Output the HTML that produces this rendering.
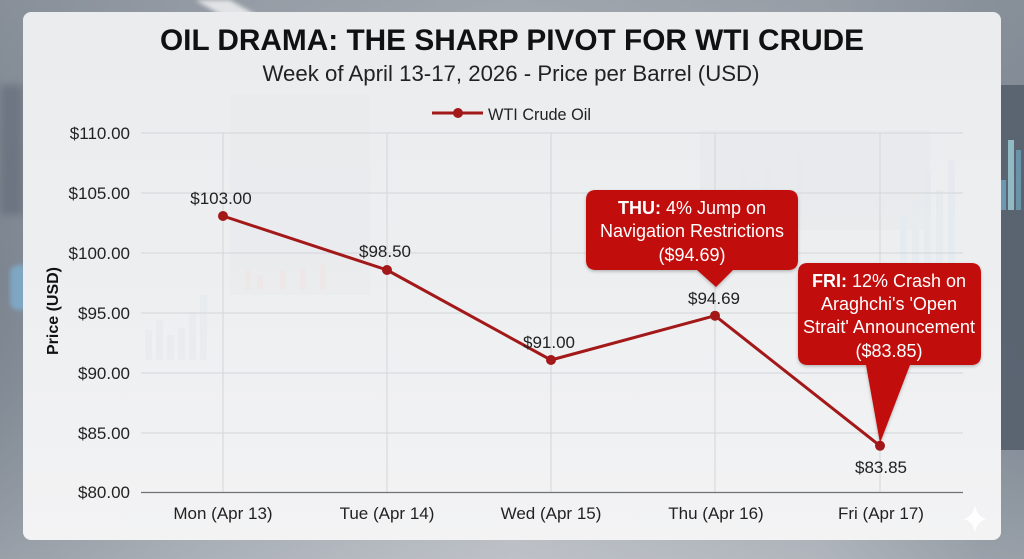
<!DOCTYPE html>
<html>
<head>
<meta charset="utf-8">
<style>
  html,body{margin:0;padding:0;}
  body{width:1024px;height:559px;overflow:hidden;
    background:linear-gradient(90deg,#7c8590 0%,#9ba2ab 20%,#b9bdc3 50%,#a3a9b1 80%,#7d8792 96%,#7b8590 100%);}
  svg{display:block;}
  text{font-family:"Liberation Sans",Arial,sans-serif;}
</style>
</head>
<body>
<svg width="1024" height="559" viewBox="0 0 1024 559" xmlns="http://www.w3.org/2000/svg">
  <defs>
    <linearGradient id="bgv" x1="0" y1="0" x2="0" y2="1">
      <stop offset="0" stop-color="#8f969f" stop-opacity="0.6"/>
      <stop offset="0.5" stop-color="#8f969f" stop-opacity="0"/>
      <stop offset="1" stop-color="#c4c8cd" stop-opacity="0.4"/>
    </linearGradient>
    <linearGradient id="card" x1="0" y1="0" x2="0" y2="1">
      <stop offset="0" stop-color="#eaecee"/>
      <stop offset="0.45" stop-color="#eceef0"/>
      <stop offset="1" stop-color="#f3f3f4"/>
    </linearGradient>
    <filter id="sh" x="-10%" y="-10%" width="120%" height="130%">
      <feDropShadow dx="0" dy="1.5" stdDeviation="1.5" flood-color="#000" flood-opacity="0.25"/>
    </filter>
    <filter id="blur"><feGaussianBlur stdDeviation="2"/></filter>
    <filter id="blur4"><feGaussianBlur stdDeviation="4"/></filter>
  </defs>

  <!-- background -->
  <rect x="0" y="0" width="1024" height="559" fill="url(#bgv)"/>
  <polygon points="195,0 230,0 300,40 265,40" fill="#f4f5f6" opacity="0.8" filter="url(#blur)"/>
  <rect x="0" y="85" width="23" height="130" fill="#5f6874" opacity="0.6" filter="url(#blur4)"/>
  <rect x="10" y="265" width="20" height="45" rx="8" fill="#7fb3d8" opacity="0.7" filter="url(#blur)"/>
  <rect x="995" y="85" width="29" height="365" fill="#56616e" opacity="0.9"/>
  <rect x="1008" y="140" width="6" height="70" fill="#9fd0d8" opacity="0.8"/>
  <rect x="1001" y="180" width="5" height="30" fill="#6fa6c2" opacity="0.8"/>
  <rect x="1016" y="150" width="5" height="60" fill="#6fa6c2" opacity="0.7"/>

  <!-- card -->
  <rect x="23" y="12" width="978" height="528" rx="8" fill="url(#card)"/>

  <!-- faint background details inside card -->
  <g opacity="0.22">
    <rect x="700" y="130" width="230" height="100" fill="#dfe3e7"/>
    <rect x="230" y="95" width="140" height="200" fill="#e2e4e7"/>
    <g fill="#d5e2ec">
      <rect x="145" y="330" width="7" height="30"/><rect x="156" y="320" width="7" height="40"/><rect x="167" y="335" width="7" height="25"/><rect x="178" y="328" width="7" height="32"/><rect x="189" y="312" width="7" height="48"/><rect x="200" y="295" width="7" height="65"/>
      <rect x="900" y="215" width="7" height="60"/><rect x="912" y="200" width="7" height="75"/><rect x="924" y="170" width="7" height="105"/><rect x="936" y="190" width="7" height="85"/><rect x="948" y="160" width="7" height="115"/>
      <rect x="740" y="170" width="6" height="40"/><rect x="752" y="180" width="6" height="30"/><rect x="764" y="165" width="6" height="45"/><rect x="796" y="155" width="6" height="55"/>
    </g>
    <g fill="#f1d6c8">
      <rect x="245" y="270" width="6" height="20"/><rect x="257" y="275" width="6" height="15"/><rect x="280" y="270" width="6" height="20"/><rect x="300" y="268" width="6" height="22"/><rect x="320" y="265" width="6" height="25"/>
    </g>
  </g>

  <!-- sparkle -->
  <path d="M975,505 Q977,517 987,519 Q977,521 975,533 Q973,521 963,519 Q973,517 975,505 Z" fill="#ffffff" opacity="0.85"/>

  <!-- gridlines -->
  <g stroke="#d3d5d8" stroke-width="1">
    <line x1="141" y1="133" x2="963" y2="133"/>
    <line x1="141" y1="193" x2="963" y2="193"/>
    <line x1="141" y1="253" x2="963" y2="253"/>
    <line x1="141" y1="313" x2="963" y2="313"/>
    <line x1="141" y1="373" x2="963" y2="373"/>
    <line x1="141" y1="433" x2="963" y2="433"/>
    <line x1="223" y1="133" x2="223" y2="492"/>
    <line x1="387" y1="133" x2="387" y2="492"/>
    <line x1="551" y1="133" x2="551" y2="492"/>
    <line x1="715" y1="133" x2="715" y2="492"/>
    <line x1="880" y1="133" x2="880" y2="492"/>
  </g>
  <line x1="141" y1="492.5" x2="963" y2="492.5" stroke="#6f7173" stroke-width="1.3"/>

  <!-- title -->
  <text x="512" y="50" text-anchor="middle" font-size="30" font-weight="bold" fill="#111" textLength="704" lengthAdjust="spacingAndGlyphs">OIL DRAMA: THE SHARP PIVOT FOR WTI CRUDE</text>
  <text x="511" y="81" text-anchor="middle" font-size="22" fill="#222" textLength="497" lengthAdjust="spacingAndGlyphs">Week of April 13-17, 2026 - Price per Barrel (USD)</text>

  <!-- legend -->
  <line x1="432" y1="113" x2="483" y2="113" stroke="#a31818" stroke-width="3"/>
  <circle cx="458" cy="113" r="5" fill="#a31818"/>
  <text x="488" y="120" font-size="17" fill="#222" textLength="103" lengthAdjust="spacingAndGlyphs">WTI Crude Oil</text>

  <!-- y tick labels -->
  <g font-size="17" fill="#222" text-anchor="end">
    <text x="130" y="139">$110.00</text>
    <text x="130" y="199">$105.00</text>
    <text x="130" y="259">$100.00</text>
    <text x="130" y="319">$95.00</text>
    <text x="130" y="379">$90.00</text>
    <text x="130" y="439">$85.00</text>
    <text x="130" y="498">$80.00</text>
  </g>
  <text transform="translate(58,311) rotate(-90)" text-anchor="middle" font-size="16" font-weight="bold" fill="#111">Price (USD)</text>

  <!-- x labels -->
  <g font-size="17" fill="#222" text-anchor="middle">
    <text x="223" y="519">Mon (Apr 13)</text>
    <text x="387" y="519">Tue (Apr 14)</text>
    <text x="551" y="519">Wed (Apr 15)</text>
    <text x="716" y="519">Thu (Apr 16)</text>
    <text x="881" y="519">Fri (Apr 17)</text>
  </g>

  <!-- series -->
  <polyline points="223,216 387,270 551,360 715,315.7 880,445.8" fill="none" stroke="#a31818" stroke-width="3" stroke-linejoin="round"/>
  <g fill="#a31818">
    <circle cx="223" cy="216" r="5"/>
    <circle cx="387" cy="270" r="5"/>
    <circle cx="551" cy="360" r="5"/>
    <circle cx="715" cy="315.7" r="5"/>
    <circle cx="880" cy="445.8" r="5"/>
  </g>

  <!-- data labels -->
  <g font-size="17" fill="#222" text-anchor="middle">
    <text x="221" y="204">$103.00</text>
    <text x="385" y="257">$98.50</text>
    <text x="549" y="348">$91.00</text>
    <text x="714" y="304">$94.69</text>
    <text x="881" y="473">$83.85</text>
  </g>

  <!-- THU callout -->
  <g filter="url(#sh)">
    <path d="M596,190 H788 Q798,190 798,200 V260 Q798,270 788,270 H733 L716,287 L697,270 H596 Q586,270 586,260 V200 Q586,190 596,190 Z" fill="#c20808"/>
  </g>
  <g font-size="18" fill="#ffffff" text-anchor="middle">
    <text x="692" y="214"><tspan font-weight="bold">THU:</tspan> 4% Jump on</text>
    <text x="692" y="237">Navigation Restrictions</text>
    <text x="692" y="261">($94.69)</text>
  </g>

  <!-- FRI callout -->
  <g filter="url(#sh)">
    <path d="M808,263 H971 Q981,263 981,273 V355 Q981,365 971,365 H910 L880,443 L866,365 H808 Q798,365 798,355 V273 Q798,263 808,263 Z" fill="#c20808"/>
  </g>
  <g font-size="18" fill="#ffffff" text-anchor="middle">
    <text x="889" y="287"><tspan font-weight="bold">FRI:</tspan> 12% Crash on</text>
    <text x="889" y="310">Araghchi's 'Open</text>
    <text x="889" y="333" textLength="172" lengthAdjust="spacingAndGlyphs">Strait' Announcement</text>
    <text x="889" y="357">($83.85)</text>
  </g>
</svg>
</body>
</html>
